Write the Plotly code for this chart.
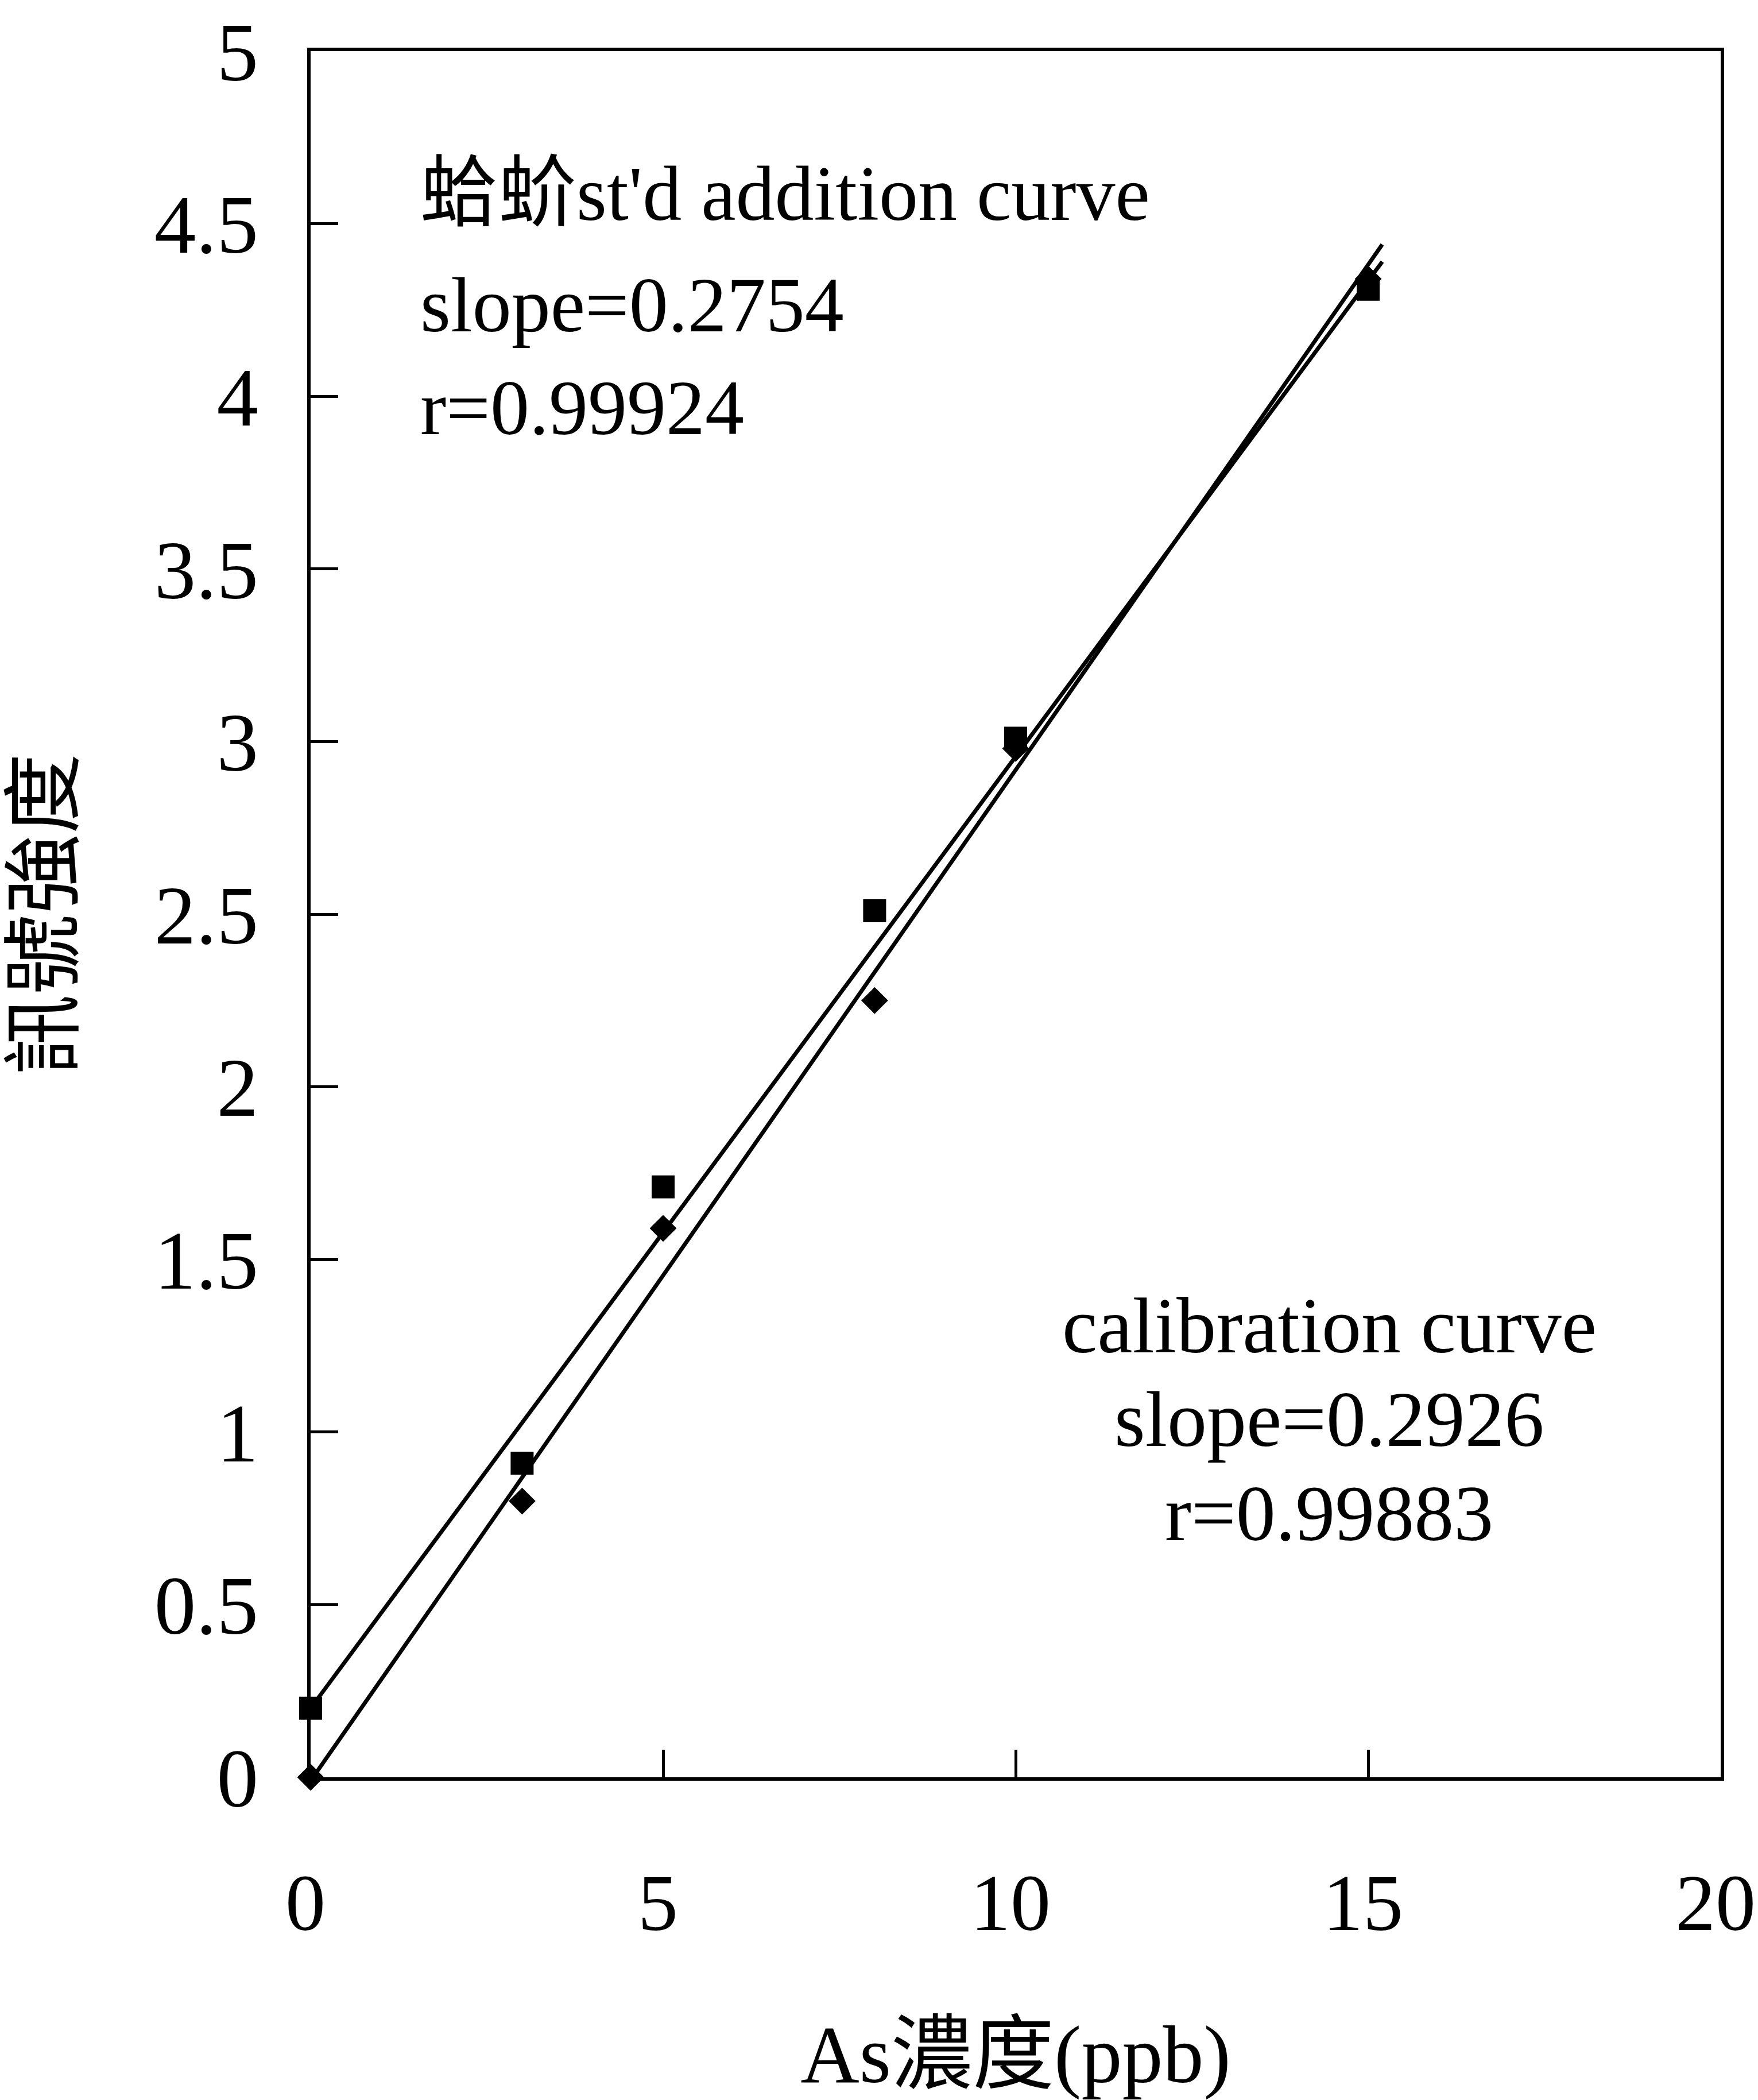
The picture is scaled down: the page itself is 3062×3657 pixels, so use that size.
import plotly.graph_objects as go

# Data
conc = [0, 3, 5, 8, 10, 15]
std_add_signal = [0.20, 0.91, 1.71, 2.51, 3.01, 4.31]
calib_signal = [0.00, 0.80, 1.59, 2.25, 2.98, 4.34]

fit_x = [0, 15.2]
std_add_fit_y = [0.20, 4.39]
calib_fit_y = [-0.01, 4.44]

x_ticks = [0, 5, 10, 15, 20]
y_ticks = [0, 0.5, 1, 1.5, 2, 2.5, 3, 3.5, 4, 4.5, 5]

std_label = ["蛤蚧st'd addition curve", "slope=0.2754", "r=0.99924"]
cal_label = ["calibration curve", "slope=0.2926", "r=0.99883"]

FONT = "Liberation Serif, 'Noto Sans CJK TC', serif"
W, H = 3062, 3657

fig = go.Figure()
fig.add_trace(go.Scatter(x=fit_x, y=std_add_fit_y, mode="lines",
                         line=dict(color="black", width=7), showlegend=False,
                         cliponaxis=False))
fig.add_trace(go.Scatter(x=fit_x, y=calib_fit_y, mode="lines",
                         line=dict(color="black", width=7), showlegend=False,
                         cliponaxis=False))
fig.add_trace(go.Scatter(x=conc, y=calib_signal, mode="markers",
                         marker=dict(symbol="diamond", size=36, color="black"),
                         showlegend=False, cliponaxis=False))
fig.add_trace(go.Scatter(x=conc, y=std_add_signal, mode="markers",
                         marker=dict(symbol="square", size=40, color="black"),
                         showlegend=False, cliponaxis=False))

std_ys = [4.587, 4.265, 3.967]
for txt, yy in zip(std_label, std_ys):
    fig.add_annotation(x=1.54, y=yy, xref="x", yref="y", text=txt,
                       showarrow=False, xanchor="left", yanchor="middle",
                       font=dict(family=FONT, size=136, color="black"))
cal_ys = [1.308, 1.037, 0.765]
for txt, yy in zip(cal_label, cal_ys):
    fig.add_annotation(x=14.45, y=yy, xref="x", yref="y", text=txt,
                       showarrow=False, xanchor="center", yanchor="middle",
                       font=dict(family=FONT, size=138, color="black"))

axis_common = dict(showgrid=False, zeroline=False, showline=True,
                   linecolor="black", linewidth=6, mirror=True,
                   ticks="inside", ticklen=48, tickwidth=5, tickcolor="black",
                   ticklabeloverflow="allow")

fig.update_xaxes(range=[0, 20], tickvals=x_ticks, ticklabelstandoff=92,
                 ticklabelshift=-9,
                 tickfont=dict(family=FONT, size=140, color="black"),
                 title=dict(text="As濃度(ppb)", standoff=155,
                            font=dict(family=FONT, size=142, color="black")),
                 **axis_common)
fig.update_yaxes(range=[0, 5], tickvals=y_ticks, ticklabelstandoff=56,
                 tickfont=dict(family=FONT, size=145, color="black"),
                 title=dict(text="訊號強度", standoff=100,
                            font=dict(family=FONT, size=140, color="black")),
                 **axis_common)

fig.update_layout(width=W, height=H, paper_bgcolor="white", plot_bgcolor="white",
                  margin=dict(l=541, r=65, t=89, b=562, autoexpand=False),
                  showlegend=False)

fig.write_html("out.html")
